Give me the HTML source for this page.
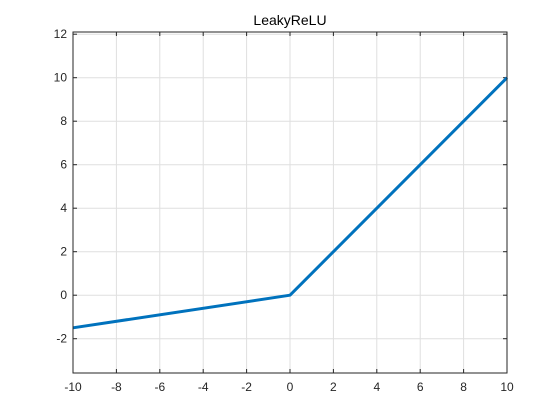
<!DOCTYPE html>
<html><head><meta charset="utf-8"><style>
body{margin:0;background:#fff;}
svg{display:block;font-family:"Liberation Sans",sans-serif;}
</style></head><body>
<svg width="560" height="420">
<rect width="560" height="420" fill="#fff"/>
<rect x="73" y="32" width="434" height="341" fill="#fff"/>
<g id="grid"></g>
<g id="ticks"></g>
<path id="series" fill="none" stroke="#0072BD" stroke-width="3" stroke-linejoin="round"/>
<rect x="73" y="32" width="434" height="341" fill="none" stroke="#262626" stroke-width="1"/>
<text x="290" y="25" text-anchor="middle" font-size="14" fill="#000">LeakyReLU</text>
</svg>
<script>
const xs=[-10,0,10];
const ys=[-1.5,0,10];
const xTicks=[-10,-8,-6,-4,-2,0,2,4,6,8,10];
const yTicks=[-2,0,2,4,6,8,10,12];
function X(v){return 73+(v+10)*21.7;}
function Y(v){return 295.2-v*21.75;}
const NS="http://www.w3.org/2000/svg";
const grid=document.getElementById('grid'),ticks=document.getElementById('ticks');
function mk(tag,attrs,parent){const e=document.createElementNS(NS,tag);for(const k in attrs)e.setAttribute(k,attrs[k]);parent.appendChild(e);return e;}
xTicks.forEach(t=>{const x=X(t);
 const g=mk('line',{x1:x,x2:x,y1:32,y2:373,stroke:'#dfdfdf','stroke-width':1},grid);
 
 
 const tk=mk('line',{x1:x,x2:x,y1:373,y2:369,stroke:'#262626'},ticks);
 
 
 const tk2=mk('line',{x1:x,x2:x,y1:32,y2:36,stroke:'#262626'},ticks);
 
 
 const l=mk('text',{x:x,y:391,'text-anchor':'middle','font-size':12,fill:'#262626'},ticks);
 l.textContent=t;
 
 
});
yTicks.forEach(t=>{const y=Y(t);
 const g=mk('line',{x1:73,x2:507,y1:y,y2:y,stroke:'#dfdfdf','stroke-width':1},grid);
 
 
 const tk=mk('line',{x1:73,x2:77,y1:y,y2:y,stroke:'#262626'},ticks);
 
 
 const tk2=mk('line',{x1:507,x2:503,y1:y,y2:y,stroke:'#262626'},ticks);
 
 
 const l=mk('text',{x:67,y:y+4,'text-anchor':'end','font-size':12,fill:'#262626'},ticks);
 l.textContent=t;
 
 
});
document.getElementById('series').setAttribute('d',xs.map((x,i)=>(i?'L':'M')+X(x)+','+Y(ys[i])).join(' '));
</script>
</body></html>
